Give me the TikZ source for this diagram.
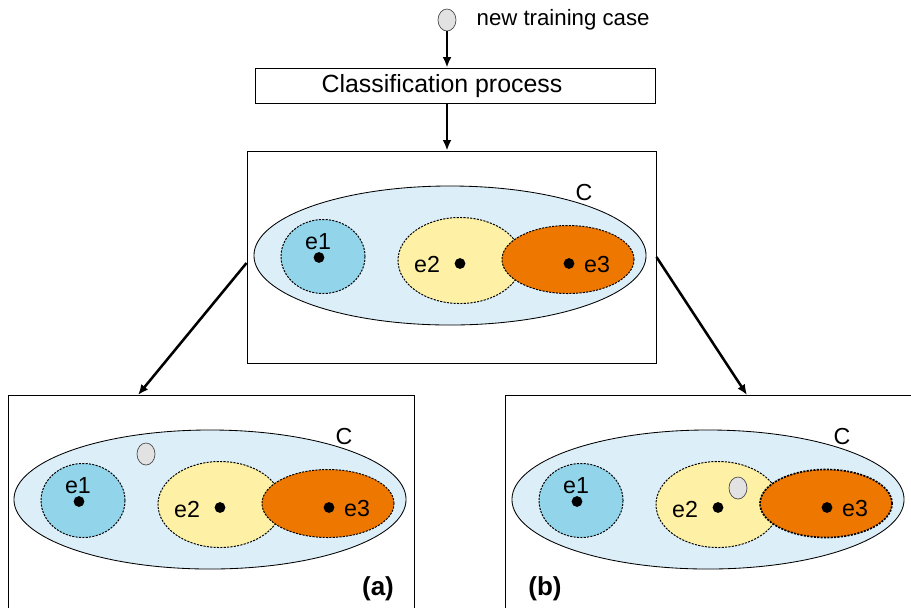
\documentclass[tikz,border=0pt]{standalone}
\usepackage{fontspec}
\setmainfont{Liberation Sans}
\usetikzlibrary{positioning,shapes.geometric,arrows.meta}
\definecolor{clsblue}{HTML}{DCEFF9}
\definecolor{eone}{HTML}{92D5EB}
\definecolor{etwo}{HTML}{FEF0A4}
\definecolor{ethree}{HTML}{EE7700}
\definecolor{casegray}{HTML}{E2E2E2}
\tikzset{classnode/.style={ellipse, draw=black, line width=0.6pt, fill=clsblue, inner sep=0pt, minimum width=9.8cm, minimum height=3.475cm},
  extnode/.style={ellipse, draw=black, dash pattern=on 1.5pt off 0.9pt, inner sep=0pt},
  corenode/.style={circle, fill=black, inner sep=0pt, minimum size=0.27cm},
  casenode/.style={ellipse, draw=black!70, line width=0.5pt, fill=casegray, inner sep=0pt, minimum width=0.45cm, minimum height=0.55cm},
  panelnode/.style={draw=black, line width=0.6pt, inner sep=0pt},
  lbl/.style={font=\fontsize{16.5}{19}\selectfont, inner sep=0pt},
  flow/.style={line width=1.8pt, -{Latex[length=2.6mm,width=2.2mm]}},}

\begin{document}
\begin{tikzpicture}[x=0.025cm, y=-0.025cm]
\useasboundingbox (0,0) rectangle (911,607);
% incoming case and classifier
\node [casenode] (new) at (447,20) {};
\node [lbl, right=0.5cm of new, font=\fontsize{15.8}{19}\selectfont] (newtxt) {new training case};
\node [panelnode, minimum width=10cm, minimum height=0.875cm] (cls) at (455,85.5) {};
\node [font=\fontsize{17.7}{21}\selectfont] (clstxt) at (442,86) {Classification process};
% panels
\node [panelnode, minimum width=10.225cm, minimum height=5.3cm] (top) at (451.5,257) {};
\node [panelnode, minimum width=10.15cm, minimum height=5.75cm] (boxa) at (211,510) {};
\node [panelnode, minimum width=10.4cm, minimum height=5.75cm] (boxb) at (713,510) {};
\foreach \p/\cx/\cy/\w in {t/450/255.5/0.7pt, a/210/499.5/0.7pt, b/708/499.5/1.2pt}{
  \begin{scope}[shift={(\cx,\cy)}]
    \node [classnode] (\p-C) at (0,0) {};
    \node [extnode, line width=0.7pt, fill=eone, minimum width=2.1cm, minimum height=1.85cm] (\p-e1) at (-127,1) {};
    \node [extnode, line width=0.7pt, fill=etwo, minimum width=3.1cm, minimum height=2.15cm] (\p-e2) at (10,5) {};
    \node [extnode, line width=\w, fill=ethree, minimum width=3.3cm, minimum height=1.7cm] (\p-e3) at (118,4) {};
    \node [corenode] (\p-d1) at (-131,2) {};
    \node [corenode] (\p-d2) at (10,8) {};
    \node [corenode] (\p-d3) at (119,8) {};
    \node [lbl] (\p-l1) at (-132,-13.5) {e1};
    \node [lbl] (\p-l2) at (-23,9.5) {e2};
    \node [lbl] (\p-l3) at (147,9) {e3};
    \node [lbl] (\p-lC) at (134,-63) {C};
  \end{scope}
}
\node [casenode] (casea) at (146,454) {};
\node [casenode] (caseb) at (738,488) {};
\node [font=\fontsize{18.5}{22}\selectfont\bfseries] (lbla) at (378,589) {(a)};
\node [font=\fontsize{18.5}{22}\selectfont\bfseries] (lblb) at (545,589) {(b)};
% connectors
\coordinate (ina) at (138,395);
\coordinate (inb) at (747,395);
\draw [flow] (new) -- (new |- cls.north);
\draw [flow] (cls.south -| new) -- (top.north -| new);
\draw [flow] ([yshift=-0.15cm]top.west) -- (ina);
\draw [flow] (top.east) -- (inb);
\end{tikzpicture}
\end{document}
